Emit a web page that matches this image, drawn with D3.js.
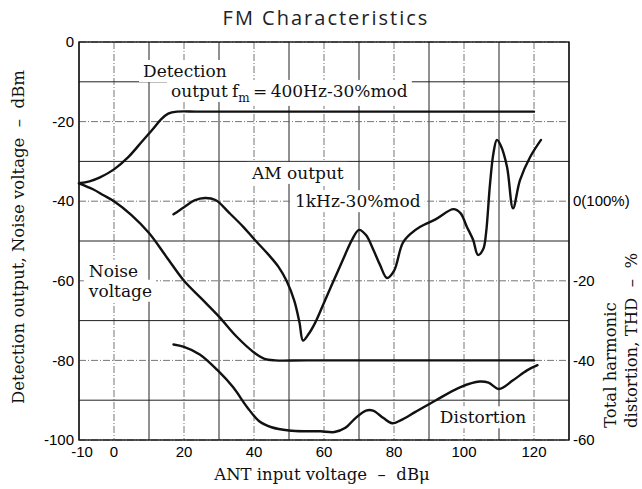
<!DOCTYPE html>
<html>
<head>
<meta charset="utf-8">
<script src="https://cdn.jsdelivr.net/npm/d3@7"></script>
<style>
body{margin:0;background:#fff;}
svg{display:block;}
</style>
</head>
<body>
<svg id="chart" width="642" height="489"></svg>
<script>
// values: x = ANT input (dBu), y = dBm
const xTicks=[-10,0,20,40,60,80,100,120]
const yTicks=[0,-20,-40,-60,-80,-100]
const thdTicks=[0,-20,-40,-60]
const thdLabels=["0(100%)","-20","-40","-60"]

const detection=[[-10,-35.5],[-7,-35],[-4,-34],[0,-32],[4,-29],[8,-25],[11,-22],[13.5,-19.4],[15.5,-18],[18,-17.5],[25,-17.5],[120,-17.5]]
const noise=[[-10,-35.5],[-6,-37],[-3,-38.5],[0,-40],[5,-43.5],[10,-48],[15,-54],[20,-60],[25,-64.5],[30,-69],[35,-74],[40,-78],[43,-79.6],[46,-80],[55,-80],[120,-80]]
const amOutput=[[17,-43.3],[20,-41.5],[23,-39.8],[26,-39.2],[29,-39.7],[33,-43],[37,-46.5],[40,-49.5],[44,-53.3],[47,-56.5],[49.3,-60],[51.5,-65],[53,-70.5],[54,-75],[55.5,-73.5],[57.5,-70.5],[60,-65.5],[63,-59.5],[66,-53.5],[68,-49.7],[70,-47.2],[72,-48.5],[74,-52],[76,-56],[78,-59.3],[80,-57.5],[82.5,-50.5],[85,-48],[87.5,-46.4],[92,-44.5],[97,-42],[99,-43],[100.8,-46.4],[102.6,-49.7],[104,-53.5],[105.5,-52],[106.3,-48],[107.4,-36],[108.4,-28],[109.4,-24.6],[110.5,-26],[112.3,-31.4],[114,-41.8],[116,-34.7],[118.9,-28.9],[122,-24.6]]
// distortion on the right THD scale
const distortion=[[17,-36],[20,-36.6],[24.5,-38.5],[29.5,-42.4],[34,-46.7],[38,-51.7],[41.5,-55.3],[45,-56.8],[50,-57.6],[55,-57.8],[59,-57.8],[63,-58],[66,-57],[69,-54.5],[72,-52.6],[74,-52.6],[77,-54.5],[79.5,-55.8],[82,-55],[86,-53],[92,-50],[99,-46.7],[104.5,-45.3],[107,-45.6],[110,-47.2],[114,-45],[118,-42.5],[121,-41.2]]

const svg=d3.select('#chart')
const plot={left:79,right:569,top:42,bottom:440}

let x=d3.scaleLinear([-10,130],[plot.left,plot.right])
let y=d3.scaleLinear([-100,0],[plot.bottom,plot.top])
let yThd=d3.scaleLinear([-60,40],[plot.bottom,plot.top])

const serif='"DejaVu Serif", serif'
const sans='"Liberation Sans", Arial, sans-serif'

// grid
let gx=d3.range(-10,131,10), gy=d3.range(-100,1,10)
let grid=svg.append('g')
grid.selectAll('line.v').data(gx).join('line')
  .attr('x1',d=>x(d)).attr('x2',d=>x(d))
  .attr('y1',plot.top).attr('y2',plot.bottom)
  .attr('stroke',d=>d%20===0?'#666':'#222')
  .attr('stroke-width',d=>d%20===0?0.9:1)
  .attr('stroke-dasharray',d=>d%20===0?'7,2,1,2':null)
grid.selectAll('line.h').data(gy).join('line')
  .attr('y1',d=>y(d)).attr('y2',d=>y(d))
  .attr('x1',plot.left).attr('x2',plot.right)
  .attr('stroke',d=>d%20===0?'#666':'#222')
  .attr('stroke-width',d=>d%20===0?0.9:1)
  .attr('stroke-dasharray',d=>d%20===0?'7,2,1,2':null)

svg.append('rect')
  .attr('x',plot.left).attr('y',plot.top)
  .attr('width',plot.right-plot.left).attr('height',plot.bottom-plot.top)
  .attr('fill','none').attr('stroke','#111').attr('stroke-width',1.4)

// annotation labels with white backing
function label(xv,yv,txt,opts){
  let g=svg.append('g')
  let t=g.append('text').attr('x',x(xv)).attr('y',y(yv))
    .attr('font-family',serif).attr('font-size',opts&&opts.size||17)
    .attr('fill','#111')
  if(typeof txt==='string') t.text(txt)
  else txt(t)
  let b=t.node().getBBox()
  g.insert('rect','text').attr('x',b.x-4).attr('y',b.y-1)
    .attr('width',b.width+8).attr('height',b.height+2).attr('fill','#fff')
  return g
}

label(8.3,-8.8,'Detection')
label(16.3,-13.8,'output')
label(33.7,-13.8,t=>{
  t.append('tspan').text('f')
  t.append('tspan').attr('font-size',12).attr('dy',5).text('m')
  t.append('tspan').attr('dy',-5).text('\u2009=\u2009400Hz-30%mod')
})
label(39.4,-34.4,'AM output')
label(51.7,-41.5,'1kHz-30%mod')
label(-7.2,-59,'Noise')
label(-7.2,-64,'voltage')
label(93.1,-95.8,'Distortion')

// curves
let line=d3.line().x(d=>x(d[0])).y(d=>y(d[1])).curve(d3.curveCatmullRom.alpha(0.5))
let lineThd=d3.line().x(d=>x(d[0])).y(d=>yThd(d[1])).curve(d3.curveCatmullRom.alpha(0.5))

let curves=svg.append('g').attr('fill','none').attr('stroke','#111')
  .attr('stroke-width',2.4).attr('stroke-linejoin','round').attr('stroke-linecap','round')
curves.append('path').attr('d',line(detection))
curves.append('path').attr('d',line(noise))
curves.append('path').attr('d',line(amOutput))
curves.append('path').attr('d',lineThd(distortion))

// axes text
svg.append('g').selectAll('text').data(yTicks).join('text')
  .attr('x',plot.left-5).attr('y',d=>y(d)).attr('dy','0.35em')
  .attr('text-anchor','end').attr('font-family',sans).attr('font-size',15)
  .text(d=>d)

svg.append('g').selectAll('text').data(xTicks).join('text')
  .attr('x',d=>x(d)+(d===-10?3:0)).attr('y',plot.bottom+17)
  .attr('text-anchor','middle').attr('font-family',sans).attr('font-size',15)
  .text(d=>d)

svg.append('g').selectAll('text').data(thdTicks).join('text')
  .attr('x',plot.right+4).attr('y',d=>yThd(d)).attr('dy','0.35em')
  .attr('font-family',sans).attr('font-size',15)
  .text((d,i)=>thdLabels[i])

svg.append('text').attr('x',326).attr('y',25).attr('text-anchor','middle')
  .attr('font-family','"Open Sans", sans-serif').attr('font-size',20)
  .attr('letter-spacing',2).attr('fill','#222')
  .text('FM Characteristics')

svg.append('text').attr('x',322).attr('y',480).attr('text-anchor','middle')
  .attr('font-family',serif).attr('font-size',16.5).attr('fill','#111')
  .text('ANT input voltage\u00a0\u00a0\u2013\u00a0\u00a0dB\u03bc')

svg.append('text').attr('transform','translate(24,237) rotate(-90)')
  .attr('text-anchor','middle').attr('font-family',serif).attr('font-size',16.5).attr('fill','#111')
  .text('Detection output, Noise voltage\u00a0\u00a0\u2013\u00a0\u00a0dBm')

svg.append('text').attr('transform','translate(616,428) rotate(-90)')
  .attr('font-family',serif).attr('font-size',16.5).attr('fill','#111')
  .text('Total harmonic')
svg.append('text').attr('transform','translate(637,428) rotate(-90)')
  .attr('font-family',serif).attr('font-size',16.5).attr('fill','#111')
  .text('distortion, THD\u00a0\u00a0\u2013\u00a0\u00a0%')
</script>
</body>
</html>
